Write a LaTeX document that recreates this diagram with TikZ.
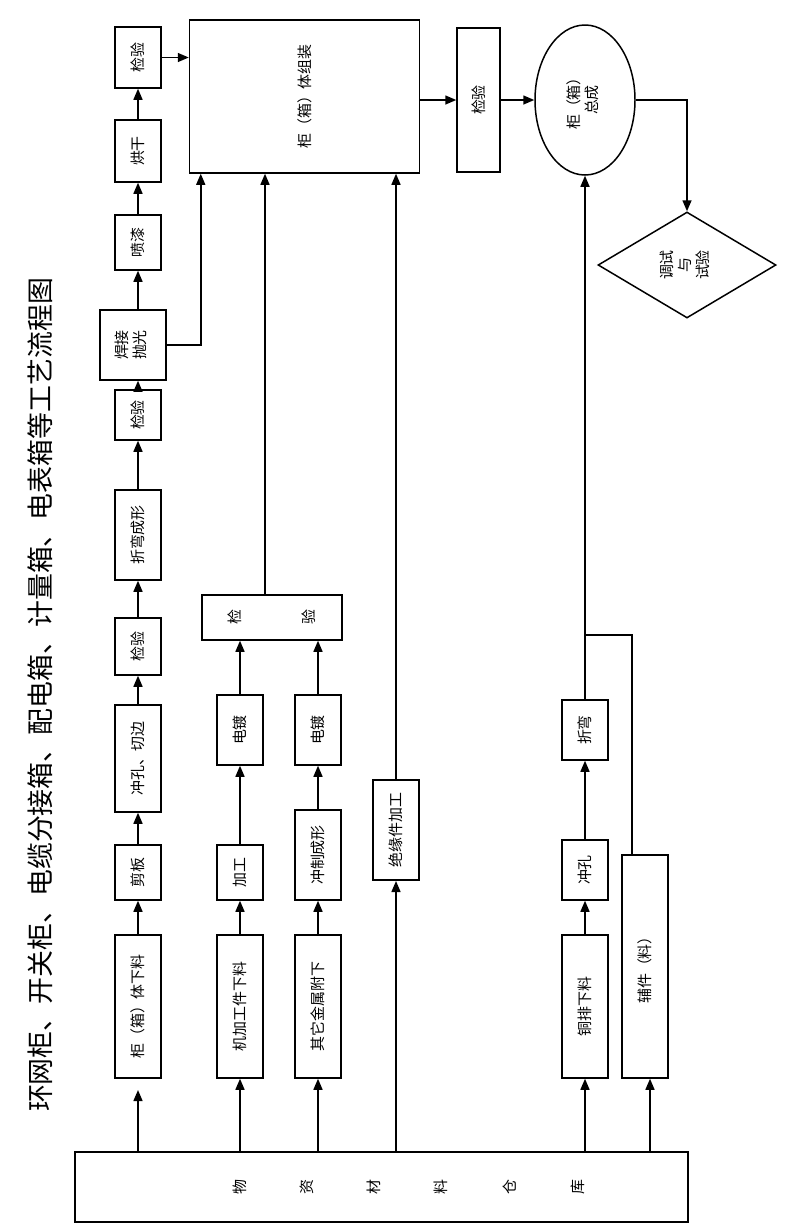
\documentclass[tikz,border=0pt]{standalone}
\usepackage{fontspec}
\setmainfont{Noto Sans CJK SC}
\usetikzlibrary{arrows.meta, shapes.geometric, positioning}
\tikzset{
  blk/.style={draw, line width=1.5pt, inner sep=0pt, minimum width=46bp, font=\fontsize{15}{18}\selectfont},
  arr/.style={line width=1.5pt, -{Triangle[length=11bp,width=9bp]}},
  ln/.style={line width=1.5pt},
  chr/.style={font=\fontsize{15}{18}\selectfont}
}
\newcommand\vt[1]{\rotatebox{90}{#1}}
\newcommand\vtt[2]{\rotatebox{90}{\begin{tabular}{@{}c@{}}#1\\#2\end{tabular}}}

\begin{document}
\begin{tikzpicture}[x=1bp, y=-1bp]
\useasboundingbox (0,0) rectangle (788,1227);
% title
\node (title) at (40,695) {\fontsize{27}{30}\selectfont\vt{环网柜、开关柜、电缆分接箱、配电箱、计量箱、电表箱等工艺流程图}};
% warehouse
\node[blk, minimum width=613bp, minimum height=70bp] (store) at (381.5,1187) {};
\node[chr] at (240,1187) {\vt{物}};
\node[chr] at (307,1187) {\vt{资}};
\node[chr] at (374,1187) {\vt{材}};
\node[chr] at (441,1187) {\vt{料}};
\node[chr] at (510,1187) {\vt{仓}};
\node[chr] at (578,1187) {\vt{库}};

% column 1
\node[blk, minimum height=143bp] (c1a) at (138,1006.5) {\vt{柜（箱）体下料}};
\node[blk, minimum height=55bp] (c1b) at (138,872.5) {\vt{剪板}};
\node[blk, minimum height=107bp] (c1c) at (138,758.5) {\vt{冲孔、切边}};
\node[blk, minimum height=57bp] (c1d) at (138,646.5) {\vt{检验}};
\node[blk, minimum height=90bp] (c1e) at (138,535) {\vt{折弯成形}};
\node[blk, minimum height=50bp] (c1f) at (138,415) {\vt{检验}};
\node[blk, minimum width=66bp, minimum height=70bp] (c1g) at (133,345) {\vtt{焊接}{抛光}};
\node[blk, minimum height=55bp] (c1h) at (138,242.5) {\vt{喷漆}};
\node[blk, minimum height=62bp] (c1i) at (138,151) {\vt{烘干}};
\node[blk, minimum height=61bp] (c1j) at (138,57.5) {\vt{检验}};
\coordinate (c1s) at (138,1090);
\draw[arr] (store.north -| c1s) -- (c1s);
\draw[arr] (c1a) -- (c1b);
\draw[arr] (c1b) -- (c1c);
\draw[arr] (c1c) -- (c1d);
\draw[arr] (c1d) -- (c1e);
\draw[arr] (c1e) -- (c1f);
\draw[arr] (c1f.north) -- (c1g.south -| c1f.north);
\draw[arr] (c1g.north -| c1h.south) -- (c1h);
\draw[arr] (c1h) -- (c1i);
\draw[arr] (c1i) -- (c1j);

% assembly
\node[blk, minimum width=230bp, minimum height=153bp] (asm) at (304.5,96.5) {\vt{柜（箱）体组装}};
\draw[arr] (c1j.east) -- (c1j.east -| asm.west);
\draw[arr] (c1g.east) -| ([xshift=12bp]asm.south west);

% columns 2 and 3
\node[blk, minimum height=143bp] (c2a) at (240,1006.5) {\vt{机加工件下料}};
\node[blk, minimum height=55bp] (c2b) at (240,872.5) {\vt{加工}};
\node[blk, minimum height=70bp] (c2c) at (240,730) {\vt{电镀}};
\node[blk, minimum height=143bp] (c3a) at (318,1006.5) {\vt{其它金属附下}};
\node[blk, minimum height=90bp] (c3b) at (318,855) {\vt{冲制成形}};
\node[blk, minimum height=70bp] (c3c) at (318,730) {\vt{电镀}};
\node[blk, minimum width=140bp, minimum height=45bp] (chk) at (272,617.5)
  {\vt{检}\hspace{60bp}\vt{验}};
\coordinate (chkup) at (265,0);
\draw[arr] (store.north -| c2a) -- (c2a);
\draw[arr] (c2a) -- (c2b);
\draw[arr] (c2b) -- (c2c);
\draw[arr] (c2c) -- (c2c |- chk.south);
\draw[arr] (store.north -| c3a) -- (c3a);
\draw[arr] (c3a) -- (c3b);
\draw[arr] (c3b) -- (c3c);
\draw[arr] (c3c) -- (c3c |- chk.south);
\draw[arr] (chk.north -| chkup) -- (chkup |- asm.south);

% column 4
\node[blk, line width=2pt, minimum height=100bp] (c4) at (396,830) {\vt{绝缘件加工}};
\draw[arr] (store.north -| c4) -- (c4);
\draw[arr] (c4) -- (c4 |- asm.south);

% output
\node[blk, minimum width=43bp, minimum height=144bp] (chk2) at (478.5,100) {\vt{检验}};
\draw[arr] (asm.east |- chk2.west) -- (chk2.west);
\node[draw, ellipse, line width=1.5pt, minimum width=100bp, minimum height=150bp,
  chr] (tot) at (585,100) {\vtt{柜（箱）}{总成}};
\draw[arr] (chk2.east |- tot.west) -- (tot.west);
\node[draw, diamond, line width=1.5pt, inner sep=0pt, minimum width=178bp, minimum height=106bp,
  chr] (test) at (687,265)
  {\rotatebox{90}{\begin{tabular}{@{}c@{}}调试\\与\\试验\end{tabular}}};
\draw[arr] (tot.east) -| (test.north);

% column 5
\node[blk, minimum height=143bp] (c5a) at (585,1006.5) {\vt{铜排下料}};
\node[blk, minimum height=60bp] (c5b) at (585,870) {\vt{冲孔}};
\node[blk, minimum height=60bp] (c5c) at (585,730) {\vt{折弯}};
\node[blk, minimum height=223bp] (c6) at (645,966.5) {\vt{辅件（料）}};
\coordinate (j5) at (585,635);
\coordinate (c6up) at (632,0);
\coordinate (c6dn) at (650,0);
\draw[arr] (store.north -| c5a) -- (c5a);
\draw[arr] (c5a) -- (c5b);
\draw[arr] (c5b) -- (c5c);
\draw[arr] (c5c) -- (tot.south);
\draw[ln] (j5) -| (c6.north -| c6up);
\draw[arr] (store.north -| c6dn) -- (c6.south -| c6dn);
\end{tikzpicture}
\end{document}
